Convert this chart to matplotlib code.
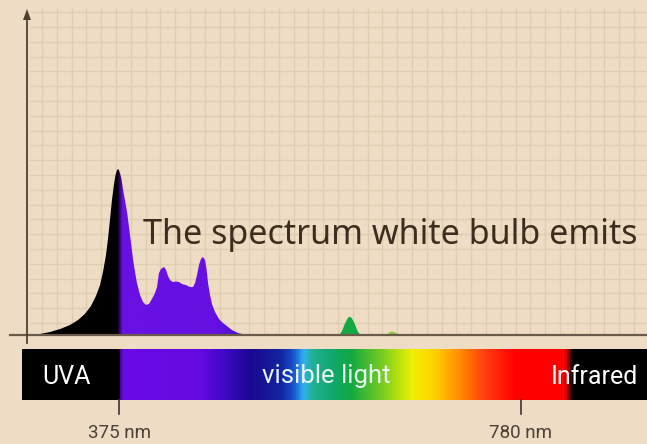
import numpy as np
import matplotlib
matplotlib.use("Agg")
import matplotlib.pyplot as plt
from matplotlib.colors import LinearSegmentedColormap

# ---------------- data ----------------
# main emission spectrum (wavelength nm, relative intensity %)
uv_wl = [290.4, 305.5, 315.6, 325.6, 333.7, 340.7, 346.8, 351.8, 355.9, 358.9,
         361.9, 363.9, 365.9, 367.9, 370.0, 371.5, 373.0, 374.5, 376.0, 377.5,
         379.0, 381.0, 383.1, 385.1, 387.1, 389.1, 391.1, 393.1, 396.2, 399.2,
         402.2, 405.2, 408.2, 411.3, 413.3, 415.3, 417.3, 420.4, 422.4, 424.4,
         426.4, 429.4, 432.4, 435.5, 438.5, 442.5, 446.5, 449.6, 451.6, 453.6,
         455.6, 457.6, 459.6, 461.6, 463.2, 464.7, 466.7, 468.7, 471.7, 475.8,
         479.8, 483.8, 488.8, 494.9, 504.0]
uv_int = [0, 1.8, 3.6, 6, 9, 12.7, 17.5, 23.5, 30.1, 38,
          48.2, 57.8, 69.3, 81.3, 91, 96.4, 99.4, 100, 97.6, 94,
          88, 81.3, 74, 65, 55.4, 45.8, 38, 31.3, 24.1, 19.9,
          18.1, 18.7, 21.7, 25.3, 28.9, 37.3, 39.8, 41, 39.2, 35.5,
          33.1, 31.9, 32.2, 31.9, 30.7, 30.1, 28.9, 28.9, 31.3, 36.1,
          42.2, 45.8, 47, 45.2, 39.8, 31.3, 24.1, 18.7, 13.9, 9.6,
          7.2, 5.4, 3, 1.2, 0]
# green emission bumps
green_wl = [596, 599, 602, 605, 607, 609, 612, 615, 618]
green_int = [0, 2.5, 7, 10.5, 11.4, 10.5, 7, 2.5, 0]
lime_wl = [644, 647, 650, 654, 658]
lime_int = [0, 2, 2.4, 1.5, 0]

# spectrum bar colour stops (nm, colour)
bar_nm = [277, 373.5, 376.5, 457, 484, 507, 537, 550, 560, 570, 588, 608, 642, 670,
          693, 717, 743, 774, 824, 833, 907]
bar_colors = ["#000000", "#000000", "#6a0ae8", "#650ae0", "#3a08c0", "#1a0890", "#1424a0",
              "#1850d0", "#30b0f0", "#20b090", "#10a870", "#10a840", "#80d020", "#f0f000",
              "#ffd000", "#ff9000", "#ff4010", "#ff0000", "#ff0000", "#000000", "#000000"]

# fill colour stops for the curve
fill_nm = [255, 373, 378, 470, 505]
fill_colors = ["#000000", "#000000", "#6a10e6", "#6610e2", "#4a10cc"]

tick_nm = [375, 780]
tick_labels = ["375 nm", "780 nm"]
title = "The spectrum white bulb emits"
band_labels = ["UVA", "visible light", "Infrared"]

# ---------------- layout helpers ----------------
W, H = 647, 444
BASE_PX = 335.0          # baseline pixel row
PX_PER_UNIT = 1.66       # pixels per intensity unit
PX_PER_NM = 1 / 1.0075
X0_NM = 375 - 119 / PX_PER_NM


def xn(px):
    return X0_NM + px / PX_PER_NM


def yn(py):
    return (BASE_PX - py) / PX_PER_UNIT


bg = "#eeddc4"
fig = plt.figure(figsize=(W / 100, H / 100), dpi=100, facecolor=bg)
ax = fig.add_axes([0, 0, 1, 1])
ax.set_facecolor(bg)
ax.set_xlim(xn(0), xn(W))
ax.set_ylim(yn(H), yn(0))
ax.axis("off")

# grid
grid_c = "#e0ccb0"
for px in np.arange(42, W + 1, 14.8):
    ax.plot([xn(px), xn(px)], [yn(8), 0], color=grid_c, lw=1.0, zorder=0)
for py in np.arange(323, 7, -14.8):
    ax.plot([xn(30), xn(W)], [yn(py), yn(py)], color=grid_c, lw=1.0, zorder=0)


def gradient_fill(wl, val, nms, cols):
    poly = ax.fill_between(wl, 0, val, color="none", lw=0)
    cm = LinearSegmentedColormap.from_list(
        "f", [((n - nms[0]) / (nms[-1] - nms[0]), c) for n, c in zip(nms, cols)])
    grad = np.linspace(0, 1, 800).reshape(1, -1)
    im = ax.imshow(grad, cmap=cm, aspect="auto",
                   extent=[nms[0], nms[-1], 0, max(val) + 1], zorder=2,
                   interpolation="bilinear")
    im.set_clip_path(poly.get_paths()[0], transform=ax.transData)


gradient_fill(uv_wl, uv_int, fill_nm, fill_colors)
ax.fill_between(green_wl, 0, green_int, color="#14a844", lw=0, zorder=2)
ax.fill_between(lime_wl, 0, lime_int, color="#8cc83c", lw=0, zorder=2)

# baseline and y axis
axis_c = "#4f4034"
ax.plot([xn(10), xn(W)], [0, 0], color="#6a5a4a", lw=1.6, zorder=3)
ax.plot([xn(27), xn(27)], [yn(343), yn(16)], color=axis_c, lw=1.3, zorder=3)
ax.fill([xn(23), xn(31), xn(27)], [yn(20), yn(20), yn(9)], color=axis_c, lw=0, zorder=3)

# spectrum bar
cm_bar = LinearSegmentedColormap.from_list(
    "bar", [((n - bar_nm[0]) / (bar_nm[-1] - bar_nm[0]), c) for n, c in zip(bar_nm, bar_colors)])
grad = np.linspace(0, 1, 1200).reshape(1, -1)
ax.imshow(grad, cmap=cm_bar, aspect="auto", interpolation="bilinear",
          extent=[bar_nm[0], bar_nm[-1], yn(400), yn(349)], zorder=2)
ax.set_xlim(xn(0), xn(W))
ax.set_ylim(yn(H), yn(0))

bar_font = "Roboto"
ax.text(xn(42), yn(384), band_labels[0], color="white", fontsize=18, family=bar_font,
        ha="left", va="baseline", zorder=4)
ax.text(xn(326), yn(383), band_labels[1], color="#e8f4f0", fontsize=18.5, family=bar_font,
        ha="center", va="baseline", zorder=4)
ax.text(xn(638), yn(384), band_labels[2], color="white", fontsize=18, family=bar_font,
        ha="right", va="baseline", zorder=4)

# ticks
for nm, lab in zip(tick_nm, tick_labels):
    ax.plot([nm, nm], [yn(400), yn(414)], color="#3e342c", lw=1.2, zorder=3)
    ax.text(nm, yn(438), lab, color="#4a4038", fontsize=13.5, family="Roboto",
            ha="center", va="baseline", zorder=4)

# title text
ax.text(xn(143), yn(244), title, color="#3c2d1e", fontsize=24.5, family="Noto Sans",
        ha="left", va="baseline", zorder=4)

fig.savefig("out.png", dpi=100, facecolor=bg)
